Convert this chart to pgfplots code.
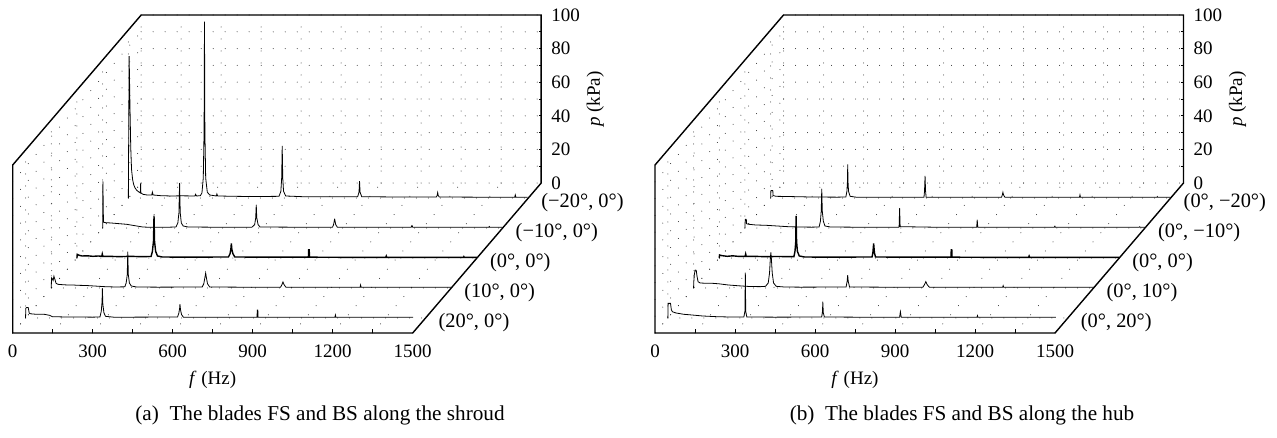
\documentclass[border=0pt]{standalone}
\usepackage{pgfplots}
\pgfplotsset{compat=1.18}
\usepackage{fontspec}
\setmainfont{Liberation Serif}
\begin{document}
\begin{tikzpicture}[font=\fontsize{9.5}{11}\selectfont]
\path[use as bounding box] (0,0) rectangle (638.5pt,219pt);
\pgfplotsset{
  wf/.style={
    x={(0.133333pt,0pt)}, y={(12.85pt,15pt)}, z={(0pt,0.84pt)},
    xmin=0,xmax=1500,ymin=0,ymax=5,zmin=0,zmax=100,
    anchor=origin,
    axis line style={draw=none},
    xtick={0,300,...,1500}, minor xtick={150,450,...,1350},
    ztick={0,20,...,100}, minor ztick={10,30,...,90},
    ytick={0.5,1.5,...,4.5},
    zticklabel pos=right,
    grid=both,
    grid style={black!85, line width=0.5pt, line cap=round, dash pattern=on 0pt off 6pt},
    major tick length=0pt, minor tick length=0pt,
    /pgf/number format/assume math mode=true,
    /pgf/number format/1000 sep={},
    xticklabel style={anchor=north, yshift=-2.5pt},
    zticklabel style={anchor=west, xshift=1.5pt},
    yticklabel style={anchor=west, xshift=3pt, yshift=-2.5pt, font=\fontsize{10.2}{12}\selectfont},
    clip=false,
    cycle list={{black, mark=none, line width=0.7pt, line join=round}},
  }
}
% ---------------- panel (a)
\begin{axis}[wf, at={(6.35pt,52.5pt)},
  yticklabels={{(20°, 0°)},{(10°, 0°)},{(0°, 0°)},{(−10°, 0°)},{(−20°, 0°)}}]
\addplot3 coordinates {(0,0.5,0) (1,0.5,5.8) (4,0.5,6.2) (10,0.5,6.2) (14,0.5,2.8) (20,0.5,2.5) (40,0.5,2.2) (70,0.5,2.2) (90,0.5,1.6) (100,0.5,0.8) (150,0.5,0.6) (200,0.5,0.6) (250,0.5,0.5) (279,0.5,0.6) (284,0.5,4) (287,0.5,10) (288,0.5,17.7) (290,0.5,8) (294,0.5,3) (300,0.5,1.0) (330,0.5,0.5) (400,0.5,0.5) (570,0.5,0.6) (575,0.5,3) (578,0.5,6) (579,0.5,8.3) (581,0.5,5) (585,0.5,2) (592,0.5,0.5) (700,0.5,0.4) (868,0.5,0.4) (869,0.5,4.8) (871,0.5,4.8) (872,0.5,0.4) (1000,0.5,0.4) (1160,0.5,0.4) (1162,0.5,1.8) (1164,0.5,0.4) (1300,0.5,0.4) (1453,0.5,0.4)};
\addplot3 coordinates {(0,1.5,0) (1,1.5,6.0) (4,1.5,5.5) (7,1.5,4.5) (10,1.5,7.0) (14,1.5,5.0) (18,1.5,2.8) (25,1.5,2.2) (40,1.5,2.0) (60,1.5,1.8) (80,1.5,1.8) (100,1.5,1.6) (130,1.5,1.5) (160,1.5,1.2) (200,1.5,0.8) (240,1.5,0.6) (276,1.5,0.7) (281,1.5,3) (285,1.5,8) (287,1.5,21.6) (289,1.5,8) (293,1.5,3) (300,1.5,1.2) (320,1.5,0.6) (400,1.5,0.5) (566,1.5,0.6) (572,1.5,2.5) (576,1.5,6) (579,1.5,8.9) (582,1.5,6) (586,1.5,2.5) (594,1.5,0.6) (700,1.5,0.5) (860,1.5,0.5) (865,1.5,2) (869,1.5,3.6) (873,1.5,2) (880,1.5,0.5) (1000,1.5,0.4) (1158,1.5,0.4) (1160,1.5,1.8) (1162,1.5,0.4) (1300,1.5,0.4) (1500,1.5,0.4)};
\addplot3 coordinates {(0,2.5,0) (1,2.5,2.2) (8,2.5,1.6) (20,2.5,1.2) (40,2.5,1.3) (60,2.5,1.0) (80,2.5,1.2) (93,2.5,1.0) (95,2.5,2.4) (97,2.5,1.0) (120,2.5,1.0) (160,2.5,0.8) (200,2.5,1.0) (240,2.5,0.8) (278,2.5,0.9) (283,2.5,4) (287,2.5,10) (289,2.5,25.2) (291,2.5,10) (295,2.5,4) (302,2.5,1.2) (320,2.5,0.6) (400,2.5,0.5) (568,2.5,0.6) (574,2.5,2.5) (577,2.5,5) (579,2.5,8.7) (581,2.5,5) (585,2.5,2.5) (592,2.5,0.6) (700,2.5,0.5) (868,2.5,0.5) (869,2.5,4.8) (871,2.5,4.8) (872,2.5,0.5) (1000,2.5,0.4) (1158,2.5,0.4) (1160,2.5,1.2) (1162,2.5,0.4) (1450,2.5,0.4) (1451,2.5,0.8) (1453,2.5,0.4) (1500,2.5,0.4)};
\addplot3 coordinates {(0,3.5,0) (1,3.5,27.6) (3,3.5,3.5) (10,3.5,3.2) (30,3.5,3.0) (60,3.5,2.6) (90,3.5,2.2) (120,3.5,1.4) (150,3.5,0.6) (180,3.5,0.4) (230,3.5,0.4) (275,3.5,0.6) (282,3.5,3) (286,3.5,9) (288.5,3.5,26.6) (291,3.5,9) (295,3.5,3) (302,3.5,1.2) (320,3.5,0.6) (400,3.5,0.5) (560,3.5,0.5) (570,3.5,2) (574,3.5,6) (576,3.5,13.7) (578,3.5,6) (583,3.5,2) (590,3.5,0.6) (700,3.5,0.5) (862,3.5,0.5) (866,3.5,2) (870,3.5,5.4) (874,3.5,2) (880,3.5,0.5) (1000,3.5,0.4) (1157,3.5,0.4) (1160,3.5,1.6) (1163,3.5,0.4) (1300,3.5,0.4) (1448,3.5,0.4) (1450,3.5,1.0) (1452,3.5,0.4) (1500,3.5,0.4)};
\addplot3 coordinates {(0,4.5,0) (3,4.5,84.5) (6,4.5,55) (9,4.5,30) (12,4.5,17) (16,4.5,11) (20,4.5,8) (25,4.5,6) (32,4.5,4.5) (40,4.5,3.5) (45,4.5,3) (46,4.5,8.7) (47,4.5,3) (55,4.5,2.2) (70,4.5,1.8) (88,4.5,1.8) (90,4.5,3.5) (93,4.5,1.8) (120,4.5,1.4) (160,4.5,1.2) (200,4.5,1.3) (250,4.5,1.2) (252,4.5,2.2) (256,4.5,1.2) (270,4.5,1.4) (276,4.5,3) (281,4.5,12) (284,4.5,40) (285.5,4.5,105) (287,4.5,40) (290,4.5,12) (296,4.5,3.5) (305,4.5,1.8) (330,4.5,1.2) (332,4.5,2.4) (335,4.5,1.2) (400,4.5,1.0) (450,4.5,0.9) (500,4.5,0.9) (565,4.5,1.0) (572,4.5,4) (575,4.5,12) (577,4.5,31) (579,4.5,12) (582,4.5,4) (590,4.5,1.2) (650,4.5,0.8) (750,4.5,0.8) (860,4.5,0.8) (865,4.5,3.5) (867,4.5,10) (869,4.5,3.5) (875,4.5,0.8) (1000,4.5,0.6) (1155,4.5,0.6) (1158,4.5,1.5) (1160,4.5,3.2) (1162,4.5,1.5) (1166,4.5,0.6) (1300,4.5,0.5) (1449,4.5,0.5) (1451,4.5,1.8) (1453,4.5,0.5) (1497,4.5,0.5)};
\draw[black, line width=0.7pt] (axis cs:0,0,0) -- (axis cs:1500,0,0) -- (axis cs:1500,5,0) -- (axis cs:1500,5,100) -- (axis cs:0,5,100) -- (axis cs:0,0,100) -- cycle;
\pgfplotsinvokeforeach{150,300,...,1350}{\draw[black, line width=0.5pt] (axis cs:#1,0,0) -- (axis cs:#1,0,2.2);}
\pgfplotsinvokeforeach{10,20,...,90}{\draw[black, line width=0.5pt] (axis cs:1500,5,#1) -- (axis cs:1490,5,#1);}
\node at (axis cs:750,0,0) [yshift=-23.5pt] {\textit{f} (Hz)};
\node at (axis cs:1500,5,50) [xshift=27pt, rotate=90] {\textit{p} (kPa)};
\end{axis}
% ---------------- panel (b)
\begin{axis}[wf, at={(327.5pt,52.5pt)},
  yticklabels={{(0°, 20°)},{(0°, 10°)},{(0°, 0°)},{(0°, −10°)},{(0°, −20°)}}]
\addplot3 coordinates {(0,0.5,0) (1,0.5,8.7) (10,0.5,8.7) (13,0.5,5) (17,0.5,3.7) (30,0.5,3.0) (60,0.5,2.2) (90,0.5,1.8) (130,0.5,1.2) (180,0.5,0.8) (230,0.5,0.6) (285,0.5,0.6) (289,0.5,4) (290.5,0.5,27) (292,0.5,4) (296,0.5,0.6) (400,0.5,0.5) (577,0.5,0.6) (580,0.5,4) (581,0.5,9.7) (583,0.5,3) (587,0.5,0.6) (700,0.5,0.5) (869,0.5,0.5) (872,0.5,3.7) (875,0.5,0.5) (1000,0.5,0.4) (1159,0.5,0.4) (1161,0.5,1.4) (1163,0.5,0.4) (1300,0.5,0.4) (1455,0.5,0.4)};
\addplot3 coordinates {(0,1.5,0) (1,1.5,4) (3,1.5,8) (6,1.5,10.7) (10,1.5,10.5) (13,1.5,7) (17,1.5,3.7) (25,1.5,3.0) (45,1.5,2.8) (70,1.5,2.8) (95,1.5,2.5) (130,1.5,1.8) (170,1.5,1.3) (210,1.5,0.9) (250,1.5,0.8) (270,1.5,1.0) (280,1.5,3) (285,1.5,9) (288,1.5,18) (290,1.5,21.2) (292,1.5,17) (295,1.5,9) (300,1.5,3) (310,1.5,1.0) (340,1.5,0.6) (400,1.5,0.5) (572,1.5,0.6) (576,1.5,4) (578,1.5,7.7) (580,1.5,4) (585,1.5,0.6) (700,1.5,0.5) (860,1.5,0.5) (866,1.5,2) (871,1.5,3.8) (876,1.5,2) (884,1.5,0.5) (1000,1.5,0.4) (1159,1.5,0.4) (1161,1.5,1.4) (1163,1.5,0.4) (1500,1.5,0.4)};
\addplot3 coordinates {(0,2.5,0) (1,2.5,1.8) (10,2.5,1.4) (30,2.5,1.0) (50,2.5,1.3) (70,2.5,1.0) (97,2.5,1.0) (99,2.5,2.4) (101,2.5,1.0) (130,2.5,1.0) (170,2.5,0.8) (220,2.5,0.9) (260,2.5,0.8) (280,2.5,0.8) (284,2.5,4) (287,2.5,10) (288,2.5,25) (290,2.5,10) (293,2.5,4) (300,2.5,1.2) (320,2.5,0.6) (400,2.5,0.5) (573,2.5,0.6) (576,2.5,3) (579,2.5,8.7) (582,2.5,3) (586,2.5,0.6) (700,2.5,0.5) (869,2.5,0.5) (870,2.5,4.8) (872,2.5,4.8) (873,2.5,0.5) (1000,2.5,0.4) (1160,2.5,0.4) (1162,2.5,1.2) (1164,2.5,0.4) (1500,2.5,0.4)};
\addplot3 coordinates {(0,3.5,0) (1,3.5,5.2) (5,3.5,5.2) (6,3.5,2.5) (15,3.5,2.2) (40,3.5,1.8) (80,3.5,1.6) (120,3.5,1.2) (160,3.5,0.8) (200,3.5,0.6) (250,3.5,0.5) (278,3.5,0.6) (283,3.5,4) (286,3.5,10) (288,3.5,23.2) (290,3.5,10) (294,3.5,4) (300,3.5,1.2) (320,3.5,0.6) (400,3.5,0.5) (578,3.5,0.5) (580,3.5,11.7) (582,3.5,0.8) (700,3.5,0.5) (869,3.5,0.5) (871,3.5,4.8) (873,3.5,0.5) (1000,3.5,0.4) (1160,3.5,0.4) (1162,3.5,1.2) (1164,3.5,0.4) (1478,3.5,0.4) (1480,3.5,0.8) (1482,3.5,0.4) (1500,3.5,0.4)};
\addplot3 coordinates {(0,4.5,0) (1,4.5,4.5) (8,4.5,4.5) (9,4.5,1.5) (20,4.5,1.0) (60,4.5,0.9) (150,4.5,0.6) (250,4.5,0.5) (282,4.5,0.6) (286,4.5,4) (288,4.5,10) (289,4.5,20) (290,4.5,10) (292,4.5,4) (298,4.5,1) (320,4.5,0.5) (575,4.5,0.5) (577,4.5,4) (579,4.5,13.1) (581,4.5,4) (583,4.5,0.5) (700,4.5,0.5) (866,4.5,0.5) (869,4.5,2) (871,4.5,3.4) (873,4.5,2) (878,4.5,0.5) (1000,4.5,0.4) (1158,4.5,0.4) (1160,4.5,1.8) (1162,4.5,0.4) (1300,4.5,0.4) (1449,4.5,0.4) (1450,4.5,0.8) (1452,4.5,0.4) (1500,4.5,0.4)};
\draw[black, line width=0.7pt] (axis cs:0,0,0) -- (axis cs:1500,0,0) -- (axis cs:1500,5,0) -- (axis cs:1500,5,100) -- (axis cs:0,5,100) -- (axis cs:0,0,100) -- cycle;
\pgfplotsinvokeforeach{150,300,...,1350}{\draw[black, line width=0.5pt] (axis cs:#1,0,0) -- (axis cs:#1,0,2.2);}
\pgfplotsinvokeforeach{10,20,...,90}{\draw[black, line width=0.5pt] (axis cs:1500,5,#1) -- (axis cs:1490,5,#1);}
\node at (axis cs:750,0,0) [yshift=-23.5pt] {\textit{f} (Hz)};
\node at (axis cs:1500,5,50) [xshift=27pt, rotate=90] {\textit{p} (kPa)};
\end{axis}
\begin{scope}[font=\fontsize{10.6}{12}\selectfont]
\node at (160pt,11.5pt) {(a)\enspace The blades FS and BS along the shroud};
\node at (481pt,11.5pt) {(b)\enspace The blades FS and BS along the hub};
\end{scope}
\end{tikzpicture}
\end{document}
